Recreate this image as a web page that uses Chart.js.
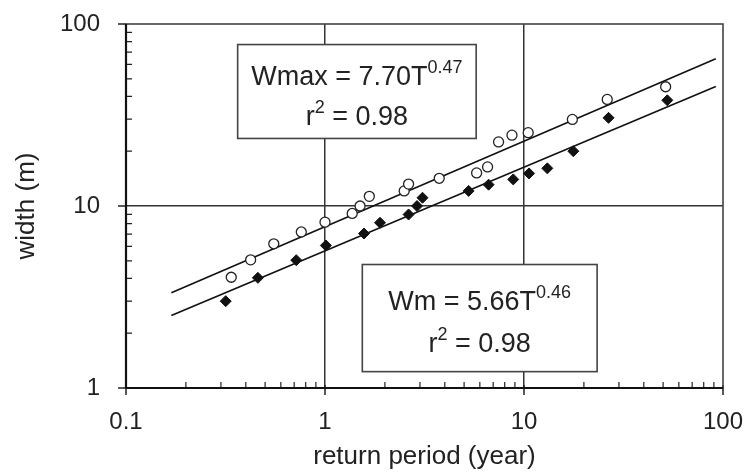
<!DOCTYPE html>
<html><head><meta charset="utf-8">
<script src="https://cdn.jsdelivr.net/npm/chart.js@4.4.1/dist/chart.umd.min.js"></script>
<style>html,body{margin:0;padding:0;background:#fff}#wrap{width:750px;height:475px;position:relative}</style>
</head><body><div id="wrap"><canvas id="c"></canvas></div>
<script>
// ---- data ----
const wmaxT = [0.338,0.423,0.553,0.76,1.0,1.37,1.5,1.67,2.5,2.63,3.75,5.78,6.56,7.45,8.7,10.5,17.5,26.2,51.5];
const wmaxW = [4.06,5.06,6.2,7.2,8.15,9.1,10.0,11.3,12.1,13.2,14.2,15.2,16.4,22.5,24.5,25.3,29.9,38.5,45.2];
const wmT = [0.317,0.46,0.717,1.01,1.57,1.89,2.63,2.9,3.09,5.27,6.64,8.83,10.6,13.1,17.7,26.6,52.5];
const wmW = [3.0,4.03,5.04,6.07,7.06,8.09,8.98,10.0,11.1,12.1,13.1,14.0,15.1,16.1,20.0,30.5,38.1];
const fitT = [0.169, 92];
const wmaxFit = [3.34, 64.5];
const wmFit = [2.50, 45.3];
const xTickLabels = [0.1, 1, 10, 100];
const yTickLabels = [1, 10, 100];
const xGridValues = [1, 10];
const yGridValues = [10];
const xTitle = 'return period (year)';
const yTitle = 'width (m)';
const eq1 = [{t:'Wmax = 7.70T'},{t:'0.47',sup:true}];
const eq2 = [{t:'Wm = 5.66T'},{t:'0.46',sup:true}];
const r2a = [{t:'r'},{t:'2',sup:true},{t:' = 0.98'}];
const r2b = [{t:'r'},{t:'2',sup:true},{t:' = 0.98'}];
// annotation boxes anchored in data coordinates
const boxes = [
  {x0:0.364, x1:5.75, y0:77.1, y1:23.5, lines:[eq1, r2a], offs:[40, 80]},
  {x0:1.54, x1:23.3, y0:4.77, y1:1.23, lines:[eq2, r2b], offs:[45, 87]}
];

const FONT = "'Liberation Sans', Arial, sans-serif";
const TEXT = '#222';
const near = (v, list) => list.some(a => Math.abs(v - a) / a < 1e-6);
const pts = (xs, ys) => xs.map((x, i) => ({x, y: ys[i]}));

const framePlugin = {
  id: 'frame',
  beforeDatasetsDraw(chart) {
    const {ctx, chartArea: a, scales: {x, y}} = chart;
    ctx.save();
    ctx.strokeStyle = '#222';
    ctx.lineWidth = 1.2;
    ctx.beginPath();
    for (const d of [0.1, 1, 10]) for (let k = 2; k <= 9; k++) {
      const px = x.getPixelForValue(k * d);
      ctx.moveTo(px, a.bottom); ctx.lineTo(px, a.bottom - 6);
    }
    for (const d of [1, 10]) for (let k = 2; k <= 9; k++) {
      const py = y.getPixelForValue(k * d);
      ctx.moveTo(a.left, py); ctx.lineTo(a.left + 6, py);
    }
    ctx.stroke();
    ctx.lineWidth = 1.5;
    ctx.beginPath();
    for (const v of xTickLabels) { const px = x.getPixelForValue(v); ctx.moveTo(px, a.bottom - 3); ctx.lineTo(px, a.bottom + 7); }
    for (const v of yTickLabels) { const py = y.getPixelForValue(v); ctx.moveTo(a.left - 8, py); ctx.lineTo(a.left, py); }
    ctx.stroke();
    ctx.strokeStyle = '#444'; ctx.lineWidth = 1.6;
    ctx.strokeRect(a.left, a.top, a.right - a.left, a.bottom - a.top);
    ctx.strokeStyle = '#111'; ctx.lineWidth = 2.2;
    ctx.beginPath();
    ctx.moveTo(a.left, a.top); ctx.lineTo(a.left, a.bottom); ctx.lineTo(a.right, a.bottom);
    ctx.stroke();
    ctx.restore();
  },
  afterDatasetsDraw(chart) {
    const {ctx, scales: {x, y}} = chart;
    ctx.save();
    for (const b of boxes) {
      const l = x.getPixelForValue(b.x0), r = x.getPixelForValue(b.x1);
      const t = y.getPixelForValue(b.y0), bt = y.getPixelForValue(b.y1);
      ctx.fillStyle = '#fff';
      ctx.fillRect(l, t, r - l, bt - t);
      ctx.strokeStyle = '#444'; ctx.lineWidth = 1.6;
      ctx.strokeRect(l, t, r - l, bt - t);
      const cx = (l + r) / 2;
      b.lines.forEach((runs, i) => {
        let total = 0;
        const ws = runs.map(run => {
          ctx.font = (run.sup ? '18px ' : '27px ') + FONT;
          const w = ctx.measureText(run.t).width; total += w; return w;
        });
        let px = cx - total / 2;
        const base = t + b.offs[i];
        ctx.fillStyle = TEXT; ctx.textBaseline = 'alphabetic'; ctx.textAlign = 'left';
        runs.forEach((run, j) => {
          ctx.font = (run.sup ? '18px ' : '27px ') + FONT;
          ctx.fillText(run.t, px, run.sup ? base - 12 : base);
          px += ws[j];
        });
      });
    }
    ctx.restore();
  }
};

new Chart(document.getElementById('c'), {
  type: 'scatter',
  data: {
    datasets: [
      {label:'Wmax', data: pts(wmaxT, wmaxW), pointStyle:'circle', pointRadius:5, pointBackgroundColor:'#fff', pointBorderColor:'#222', pointBorderWidth:1.3, showLine:false},
      {label:'Wm', data: pts(wmT, wmW), pointStyle:'rectRot', pointRadius:5.5, pointBackgroundColor:'#111', pointBorderColor:'#111', pointBorderWidth:1, showLine:false},
      {label:'Wmax fit', data: pts(fitT, wmaxFit), showLine:true, pointRadius:0, borderColor:'#111', borderWidth:1.6, fill:false},
      {label:'Wm fit', data: pts(fitT, wmFit), showLine:true, pointRadius:0, borderColor:'#111', borderWidth:1.6, fill:false}
    ]
  },
  options: {
    responsive: true, maintainAspectRatio: false, animation: false,
    layout: {padding: {left: 0, right: 27, top: 24, bottom: 0}},
    plugins: {legend: {display: false}, tooltip: {enabled: false}},
    scales: {
      x: {
        type: 'logarithmic', min: 0.1, max: 100,
        afterFit(s) { s.height = 87; s.paddingLeft = 0; s.paddingRight = 0; },
        border: {display: false},
        grid: {drawTicks: false, lineWidth: 1.5, color: c => near(c.tick.value, xGridValues) ? '#333' : 'rgba(0,0,0,0)'},
        ticks: {autoSkip: false, maxRotation: 0, padding: 20, color: TEXT, font: {family: FONT, size: 24},
          callback: v => near(v, xTickLabels) ? String(v) : ''},
        title: {display: true, text: xTitle, color: TEXT, font: {family: FONT, size: 26}, padding: {top: 0, bottom: 3}}
      },
      y: {
        type: 'logarithmic', min: 1, max: 100,
        afterFit(s) { s.width = 126; s.paddingTop = 0; s.paddingBottom = 0; },
        border: {display: false},
        grid: {drawTicks: false, lineWidth: 1.5, color: c => near(c.tick.value, yGridValues) ? '#333' : 'rgba(0,0,0,0)'},
        ticks: {autoSkip: false, padding: 26, color: TEXT, font: {family: FONT, size: 24},
          callback: v => near(v, yTickLabels) ? String(v) : ''},
        title: {display: true, text: yTitle, color: TEXT, font: {family: FONT, size: 26}, padding: {top: 11, bottom: 0}}
      }
    }
  },
  plugins: [framePlugin]
});
</script></body></html>
